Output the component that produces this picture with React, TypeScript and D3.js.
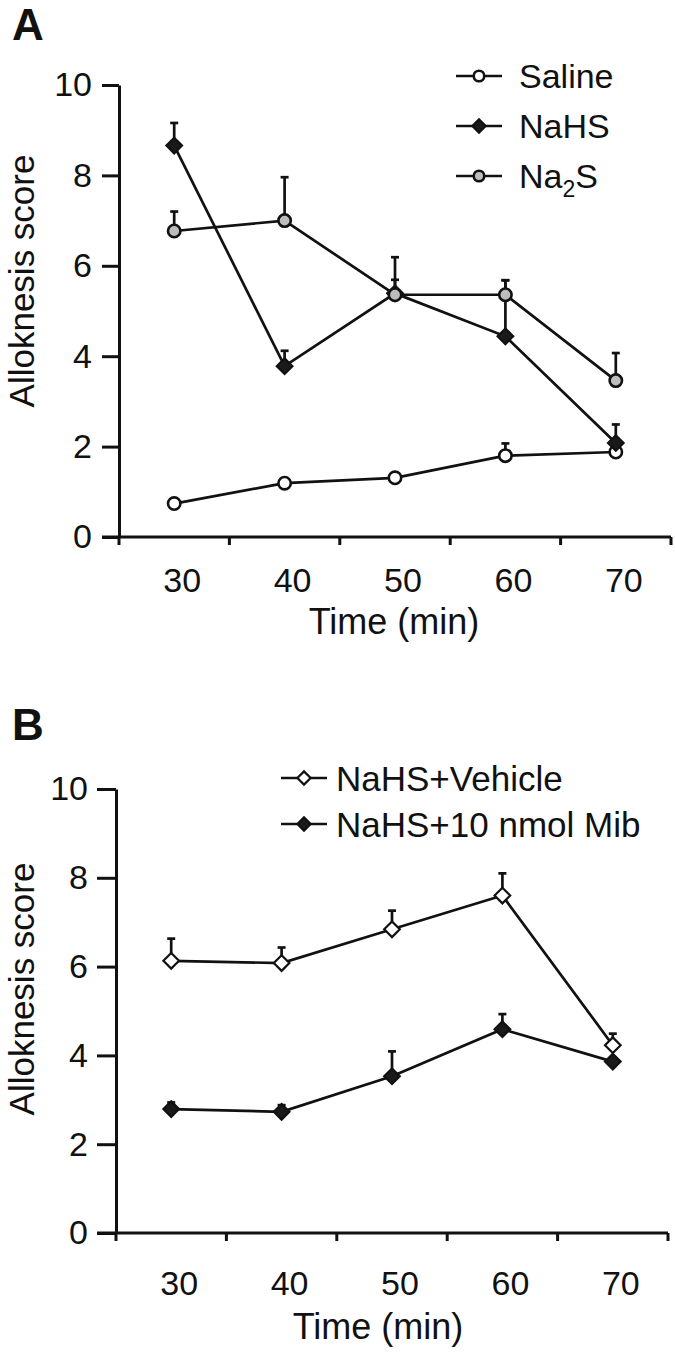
import React, { useEffect, useRef } from 'react';
import * as d3 from 'd3';

// time points (min)
const times = ['30', '40', '50', '60', '70'];
const yTicks = [0, 2, 4, 6, 8, 10];

// panel A
const salineMean = [0.74, 1.19, 1.31, 1.8, 1.88];
const salineErr = [0.08, 0.1, 0.1, 0.27, 0.1];
const nahsMean = [8.66, 3.78, 5.39, 4.44, 2.08];
const nahsErr = [0.5, 0.34, 0.3, 1.24, 0.41];
const na2sMean = [6.77, 7.0, 5.36, 5.36, 3.46];
const na2sErr = [0.43, 0.96, 0.83, 0.32, 0.61];

// panel B
const vehicleMean = [6.13, 6.08, 6.84, 7.6, 4.23];
const vehicleErr = [0.5, 0.35, 0.42, 0.5, 0.26];
const mibMean = [2.79, 2.73, 3.53, 4.59, 3.86];
const mibErr = [0.15, 0.15, 0.56, 0.34, 0.08];

const FONT = '"Liberation Sans", Arial, sans-serif';
const INK = '#111';

type Series = { mean: number[]; err: number[]; shape: 'circle' | 'diamond'; fill: string };

const drawMarker = (g: any, shape: string, cx: number, cy: number, fill: string, size = 1) => {
  if (shape === 'circle') {
    g.append('circle')
      .attr('cx', cx).attr('cy', cy).attr('r', 6.2 * size)
      .attr('fill', fill).attr('stroke', INK).attr('stroke-width', 2.6);
  } else {
    const s = 7.8 * size;
    g.append('path')
      .attr('d', `M${cx},${cy - s}L${cx + s},${cy}L${cx},${cy + s}L${cx - s},${cy}Z`)
      .attr('fill', fill).attr('stroke', INK).attr('stroke-width', 2.2);
  }
};

const drawPanel = (svg: any, opts: any) => {
  const { left, right, y0, y10, letter, letterY, series, tickSize, tickPad, labelY, titleY, titleX, yTitleY } = opts;

  const x = d3.scaleBand().domain(times).range([left, right]).padding(0);
  const y = d3.scaleLinear().domain([0, 10]).range([y0, y10]);
  const bw = x.bandwidth();
  const g = svg.append('g');

  g.append('text')
    .attr('x', 12).attr('y', letterY)
    .text(letter)
    .style('font', `bold 44px ${FONT}`)
    .attr('fill', INK);

  // y axis
  const yAxis = g.append('g')
    .attr('transform', `translate(${left},0)`)
    .call(d3.axisLeft(y).tickValues(yTicks).tickSize(tickSize).tickSizeOuter(0).tickPadding(tickPad));
  yAxis.select('.domain').attr('stroke', INK).attr('stroke-width', 3);
  yAxis.selectAll('.tick line').attr('stroke', INK).attr('stroke-width', 3);
  yAxis.selectAll('.tick text')
    .attr('fill', INK)
    .style('font-family', FONT)
    .style('font-size', '34px');

  // x axis
  g.append('line')
    .attr('x1', left - tickSize).attr('x2', right)
    .attr('y1', y0).attr('y2', y0)
    .attr('stroke', INK).attr('stroke-width', 3);
  const bounds = [...times.map((t) => x(t) as number), right];
  g.selectAll('.xt')
    .data(bounds)
    .enter().append('line')
    .attr('x1', (d: number) => d).attr('x2', (d: number) => d)
    .attr('y1', y0).attr('y2', y0 + 8)
    .attr('stroke', INK).attr('stroke-width', 3);
  g.selectAll('.xl')
    .data(times)
    .enter().append('text')
    .attr('x', (d: string) => (x(d) as number) + bw / 2 + 8)
    .attr('y', labelY)
    .attr('text-anchor', 'middle')
    .text((d: string) => d)
    .style('font', `34px ${FONT}`)
    .attr('fill', INK);

  g.append('text')
    .attr('x', titleX).attr('y', titleY)
    .attr('text-anchor', 'middle')
    .text('Time (min)')
    .style('font', `36px ${FONT}`)
    .attr('fill', INK);

  g.append('text')
    .attr('transform', `translate(34,${yTitleY}) rotate(-90)`)
    .attr('text-anchor', 'middle')
    .text('Alloknesis score')
    .style('font', `35px ${FONT}`)
    .attr('fill', INK);

  const cx = (i: number) => (x(times[i]) as number) + bw / 2;
  const line = d3.line<number>().x((d, i) => cx(i)).y((d) => y(d));

  series.forEach((s: Series) => {
    g.append('path')
      .attr('d', line(s.mean))
      .attr('fill', 'none')
      .attr('stroke', INK)
      .attr('stroke-width', 2.7);
    s.mean.forEach((m, i) => {
      const top = y(m + s.err[i]);
      g.append('line')
        .attr('x1', cx(i)).attr('x2', cx(i))
        .attr('y1', y(m)).attr('y2', top)
        .attr('stroke', INK).attr('stroke-width', 2.7);
      g.append('line')
        .attr('x1', cx(i) - 4).attr('x2', cx(i) + 4)
        .attr('y1', top).attr('y2', top)
        .attr('stroke', INK).attr('stroke-width', 2.7);
    });
    s.mean.forEach((m, i) => drawMarker(g, s.shape, cx(i), y(m), s.fill));
  });

  return g;
};

const legendRow = (svg: any, x1: number, x2: number, ty: number, textX: number, shape: string, fill: string, size: number) => {
  svg.append('line')
    .attr('x1', x1).attr('x2', x2).attr('y1', ty).attr('y2', ty)
    .attr('stroke', INK).attr('stroke-width', 2.7);
  drawMarker(svg, shape, (x1 + x2) / 2, ty, fill, 0.85);
  return svg.append('text')
    .attr('x', textX).attr('y', ty)
    .attr('dy', '0.36em')
    .style('font', `${size}px ${FONT}`)
    .attr('fill', INK);
};

const App = () => {
  const ref = useRef<SVGSVGElement>(null);

  useEffect(() => {
    const svg = d3.select(ref.current);
    svg.selectAll('*').remove();

    drawPanel(svg, {
      left: 119, right: 671, y0: 537, y10: 85,
      letter: 'A', letterY: 40,
      tickSize: 17, tickPad: 10, labelY: 592, titleY: 634, titleX: 394, yTitleY: 281,
      series: [
        { mean: salineMean, err: salineErr, shape: 'circle', fill: '#fff' },
        { mean: nahsMean, err: nahsErr, shape: 'diamond', fill: '#1a1a1a' },
        { mean: na2sMean, err: na2sErr, shape: 'circle', fill: '#bdbdbd' },
      ],
    });

    legendRow(svg, 456, 502, 76, 519, 'circle', '#fff', 34).text('Saline');
    legendRow(svg, 456, 502, 126, 519, 'diamond', '#1a1a1a', 34).text('NaHS');
    const t = legendRow(svg, 456, 502, 176, 519, 'circle', '#bdbdbd', 34);
    t.append('tspan').text('Na');
    t.append('tspan').attr('dy', 9).style('font-size', '23px').text('2');
    t.append('tspan').attr('dy', -9).text('S');

    drawPanel(svg, {
      left: 116, right: 668, y0: 1233, y10: 789,
      letter: 'B', letterY: 740,
      tickSize: 19, tickPad: 9, labelY: 1295, titleY: 1339, titleX: 378, yTitleY: 989,
      series: [
        { mean: vehicleMean, err: vehicleErr, shape: 'diamond', fill: '#fff' },
        { mean: mibMean, err: mibErr, shape: 'diamond', fill: '#1a1a1a' },
      ],
    });

    legendRow(svg, 281, 327, 778, 336, 'diamond', '#fff', 35).text('NaHS+Vehicle');
    legendRow(svg, 281, 327, 824, 336, 'diamond', '#1a1a1a', 35).text('NaHS+10 nmol Mib');
  }, []);

  return (
    <svg
      ref={ref}
      width={675}
      height={1356}
      style={{ position: 'absolute', left: 0, top: 0, background: '#fff' }}
    />
  );
};

export default App;
